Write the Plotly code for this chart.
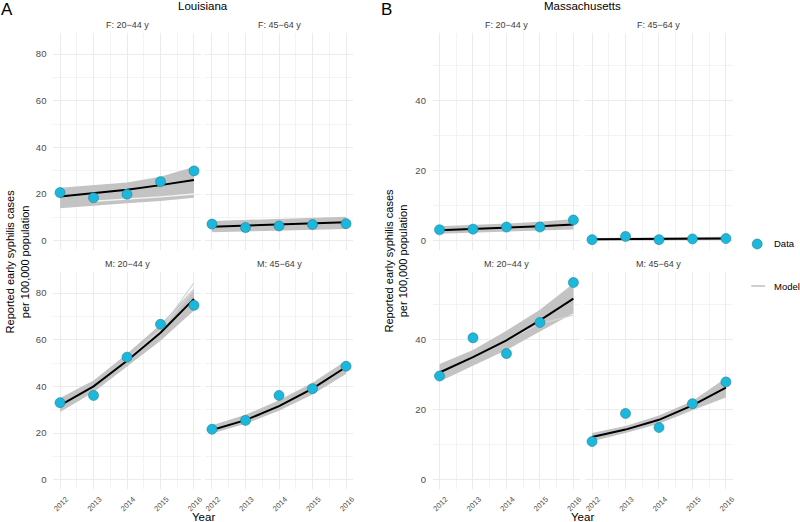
import plotly.graph_objects as go

years = [2012, 2013, 2014, 2015, 2016]
year_labels = ["2012", "2013", "2014", "2015", "2016"]

# ---- Louisiana ----
la_f2044_data = [20.6, 18.4, 19.9, 25.3, 29.9]
la_f2044_fit = [18.9, 20.2, 21.8, 23.8, 26.0]
la_f2044_lo = [13.9, 14.9, 16.0, 17.0, 18.4]
la_f2044_hi = [22.7, 23.7, 24.9, 27.4, 31.7]
la_f2044_gap = [16.9, 17.8, 18.8, 20.0]

la_f4564_data = [7.1, 5.6, 6.3, 6.9, 7.3]
la_f4564_fit = [6.0, 6.4, 6.8, 7.3, 7.9]
la_f4564_lo = [3.6, 3.9, 4.2, 4.6, 5.0]
la_f4564_hi = [8.4, 8.8, 9.2, 9.7, 10.3]

la_m2044_data = [33.0, 36.1, 52.5, 66.6, 74.7]
la_m2044_fit = [31.8, 40.0, 51.0, 63.0, 77.5]
la_m2044_lo = [29.0, 37.5, 48.3, 59.5, 72.5]
la_m2044_hi = [35.0, 42.5, 54.0, 66.5, 82.0]
la_m2044_run_a = [32.0, 40.3, 51.5, 64.5, 84.3]
la_m2044_run_b = [31.8, 40.0, 51.2, 64.0, 81.5]

la_m4564_data = [21.6, 25.4, 36.1, 39.0, 48.6]
la_m4564_fit = [21.3, 25.5, 31.5, 39.0, 48.3]
la_m4564_lo = [19.8, 24.0, 29.5, 36.5, 45.3]
la_m4564_hi = [23.3, 27.8, 34.0, 41.5, 51.0]

# ---- Massachusetts ----
ma_f2044_data = [3.1, 3.3, 3.9, 3.9, 5.9]
ma_f2044_fit = [3.0, 3.3, 3.7, 4.1, 4.6]
ma_f2044_lo = [2.0, 2.3, 2.6, 2.9, 3.2]
ma_f2044_hi = [4.1, 4.4, 4.9, 5.4, 6.2]

ma_f4564_data = [0.3, 1.2, 0.3, 0.5, 0.6]
ma_f4564_fit = [0.4, 0.45, 0.5, 0.55, 0.65]
ma_f4564_lo = [0.0, 0.05, 0.1, 0.15, 0.2]
ma_f4564_hi = [0.8, 0.9, 1.0, 1.05, 1.15]

ma_m2044_data = [29.6, 40.5, 36.0, 44.9, 56.3]
ma_m2044_fit = [30.6, 35.0, 39.8, 45.5, 51.7]
ma_m2044_lo = [28.0, 32.5, 37.0, 42.3, 47.5]
ma_m2044_hi = [33.0, 37.0, 42.5, 48.5, 56.0]
ma_m2044_run_a = [30.6, 35.0, 39.8, 44.5, 47.0]

ma_m4564_data = [10.9, 18.9, 14.9, 21.7, 27.9]
ma_m4564_fit = [12.2, 14.3, 17.1, 21.2, 26.3]
ma_m4564_lo = [11.0, 13.3, 16.0, 19.8, 23.5]
ma_m4564_hi = [13.3, 15.3, 18.3, 22.5, 29.0]

strip_labels = ["F: 20\u221244 y", "F: 45\u221264 y", "M: 20\u221244 y", "M: 45\u221264 y"]
la_yticks = [0, 20, 40, 60, 80]
ma_yticks = [0, 20, 40]

W, H = 800, 522
FONT = "Liberation Sans, Arial, Helvetica, sans-serif"
BAND = "#c3c3c3"
RUN = "#d6d6d6"
PT_FILL = "#1cb8dc"
PT_LINE = "#1f7f98"

panels = [
    # (data, fit, lo, hi, extra runs, state, row, col)
    (la_f2044_data, la_f2044_fit, la_f2044_lo, la_f2044_hi, [], "la", 0, 0),
    (la_f4564_data, la_f4564_fit, la_f4564_lo, la_f4564_hi, [], "la", 0, 1),
    (la_m2044_data, la_m2044_fit, la_m2044_lo, la_m2044_hi, [la_m2044_run_a, la_m2044_run_b], "la", 1, 0),
    (la_m4564_data, la_m4564_fit, la_m4564_lo, la_m4564_hi, [], "la", 1, 1),
    (ma_f2044_data, ma_f2044_fit, ma_f2044_lo, ma_f2044_hi, [], "ma", 0, 0),
    (ma_f4564_data, ma_f4564_fit, ma_f4564_lo, ma_f4564_hi, [], "ma", 0, 1),
    (ma_m2044_data, ma_m2044_fit, ma_m2044_lo, ma_m2044_hi, [ma_m2044_run_a], "ma", 1, 0),
    (ma_m4564_data, ma_m4564_fit, ma_m4564_lo, ma_m4564_hi, [], "ma", 1, 1),
]

x_px = {"la": [(52.6, 200.7), (205.3, 353.5)], "ma": [(434.0, 582.0), (587.3, 735.3)]}
y_px = [(33.0, 250.0), (272.0, 489.0)]
y_ranges = {"la": [-4.0, 89.0], "ma": [-2.66, 59.3]}
y_minor = {"la": 10, "ma": 10}

fig = go.Figure()
layout = {}
annotations = []

for i, (dat, fit, lo, hi, runs, st, r, c) in enumerate(panels):
    n = i + 1
    xa = "x" if n == 1 else f"x{n}"
    ya = "y" if n == 1 else f"y{n}"
    xk = "xaxis" if n == 1 else f"xaxis{n}"
    yk = "yaxis" if n == 1 else f"yaxis{n}"
    x0, x1 = x_px[st][c]
    y0, y1 = y_px[r]
    layout[xk] = dict(
        domain=[x0 / W, x1 / W], anchor=ya, range=[2011.8, 2016.2],
        tickmode="array", tickvals=years, ticktext=year_labels,
        showticklabels=(r == 1), tickangle=-45,
        tickfont=dict(size=7.5, color="#4d4d4d", family=FONT),
        ticks="outside", ticklen=2, tickcolor="rgba(0,0,0,0)",
        ticklabelshift=6,
        showgrid=True, gridcolor="#ebebeb", gridwidth=1,
        minor=dict(showgrid=True, gridcolor="#f3f3f3", gridwidth=0.6, dtick=0.5, tick0=2012),
        zeroline=False, showline=False, fixedrange=True,
    )
    layout[yk] = dict(
        domain=[1 - y1 / H, 1 - y0 / H], anchor=xa, range=y_ranges[st],
        tickmode="array", tickvals=la_yticks if st == "la" else ma_yticks,
        showticklabels=(c == 0),
        tickfont=dict(size=9.5, color="#4d4d4d", family=FONT),
        ticks="outside", ticklen=4, tickcolor="rgba(0,0,0,0)",
        showgrid=True, gridcolor="#ebebeb", gridwidth=1,
        minor=dict(showgrid=True, gridcolor="#f3f3f3", gridwidth=0.6, dtick=y_minor[st], tick0=0),
        zeroline=False, showline=False, fixedrange=True,
    )
    # band
    fig.add_trace(go.Scatter(
        x=years + years[::-1], y=hi + lo[::-1], fill="toself", fillcolor=BAND,
        line=dict(width=0), mode="lines", xaxis=xa, yaxis=ya, hoverinfo="skip", showlegend=False))
    for run in runs:
        fig.add_trace(go.Scatter(x=years, y=run, mode="lines", line=dict(color=RUN, width=1.2),
                                 xaxis=xa, yaxis=ya, hoverinfo="skip", showlegend=False))
    if n == 1:
        fig.add_trace(go.Scatter(x=years[1:], y=la_f2044_gap, mode="lines",
                                 line=dict(color="#f4f4f4", width=1.3),
                                 xaxis=xa, yaxis=ya, hoverinfo="skip", showlegend=False))
    fig.add_trace(go.Scatter(x=years, y=fit, mode="lines", line=dict(color="black", width=2),
                             xaxis=xa, yaxis=ya, showlegend=False))
    fig.add_trace(go.Scatter(x=years, y=dat, mode="markers",
                             marker=dict(size=10, color=PT_FILL, line=dict(color=PT_LINE, width=0.6)),
                             xaxis=xa, yaxis=ya, showlegend=False))
    # strip label
    annotations.append(dict(text=strip_labels[r * 2 + c], x=(x0 + x1) / 2 / W, y=1 - (y0 - 8) / H,
                            xref="paper", yref="paper", showarrow=False, xanchor="center", yanchor="middle",
                            font=dict(size=9, color="#404040", family=FONT)))

# titles and labels
for st, title, letter, lx in [("la", "Louisiana", "A", 6), ("ma", "Massachusetts", "B", 387)]:
    cx = (x_px[st][0][0] + x_px[st][1][1]) / 2
    annotations.append(dict(text=title, x=cx / W, y=1 - 6 / H, xref="paper", yref="paper",
                            showarrow=False, xanchor="center", yanchor="middle",
                            font=dict(size=11.5, color="black", family=FONT)))
    annotations.append(dict(text=letter, x=lx / W, y=1 - 9 / H, xref="paper", yref="paper",
                            showarrow=False, xanchor="center", yanchor="middle",
                            font=dict(size=17, color="black", family=FONT)))
    annotations.append(dict(text="Year", x=cx / W, y=1 - 516.5 / H, xref="paper", yref="paper",
                            showarrow=False, xanchor="center", yanchor="middle",
                            font=dict(size=11.5, color="black", family=FONT)))
    ytx = 16.5 if st == "la" else 396.5
    annotations.append(dict(text="Reported early syphilis cases<br>per 100,000 population",
                            x=ytx / W, y=1 - 261 / H, xref="paper", yref="paper", textangle=-90,
                            showarrow=False, xanchor="center", yanchor="middle",
                            font=dict(size=11, color="black", family=FONT)))

# legend
annotations.append(dict(text="Data", x=775 / W, y=1 - 244 / H, xref="paper", yref="paper",
                        showarrow=False, xanchor="left", yanchor="middle",
                        font=dict(size=9.5, color="black", family=FONT)))
annotations.append(dict(text="Model", x=775 / W, y=1 - 286 / H, xref="paper", yref="paper",
                        showarrow=False, xanchor="left", yanchor="middle",
                        font=dict(size=9.5, color="black", family=FONT)))
shapes = [
    dict(type="circle", xref="paper", yref="paper", x0=755 / W, x1=765 / W, y0=1 - 249 / H, y1=1 - 239 / H,
         fillcolor=PT_FILL, line=dict(color=PT_LINE, width=0.6)),
    dict(type="line", xref="paper", yref="paper", x0=754 / W, x1=768 / W, y0=1 - 286 / H, y1=1 - 286 / H,
         line=dict(color="#cfcfcf", width=2)),
]

fig.update_layout(
    width=W, height=H, margin=dict(l=0, r=0, t=0, b=0),
    paper_bgcolor="white", plot_bgcolor="white",
    annotations=annotations, shapes=shapes, showlegend=False,
    font=dict(family=FONT),
    **layout,
)
fig.write_html("out.html", config={"displayModeBar": False},
               post_script="document.body.style.margin='0';document.body.style.overflow='hidden';")
